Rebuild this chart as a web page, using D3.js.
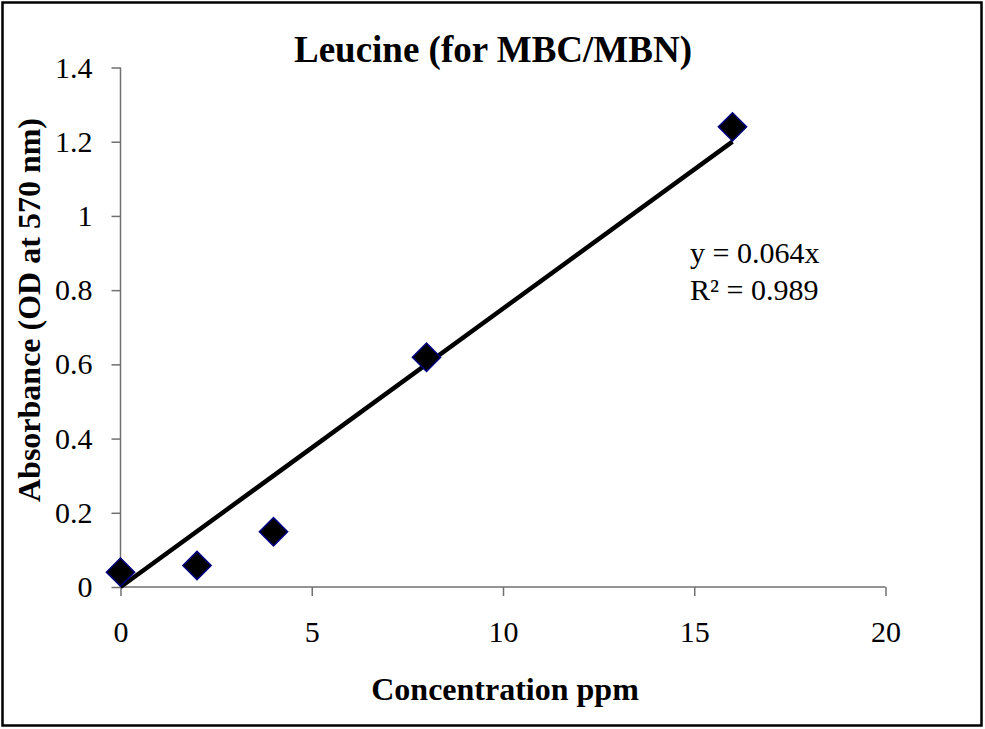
<!DOCTYPE html>
<html>
<head>
<meta charset="utf-8">
<script src="https://cdnjs.cloudflare.com/ajax/libs/d3/7.8.5/d3.min.js"></script>
<style>
  body { margin: 0; background: #fff; }
  svg text { font-family: "Liberation Serif", "Times New Roman", serif; fill: #000; }
</style>
</head>
<body>
<svg id="chart" width="985" height="729"></svg>
<script>
// data
var concentration = [0, 2, 4, 8, 16];
var absorbance = [0.040, 0.058, 0.149, 0.619, 1.240];
var xTicks = [0, 5, 10, 15, 20];
var yTicks = [0, 0.2, 0.4, 0.6, 0.8, 1, 1.2, 1.4];
var equationLines = ["y = 0.064x", "R\u00b2 = 0.989"];

var svg = d3.select("#chart");

// outer frame
svg.append("rect")
    .attr("x", 2.5).attr("y", 2.5)
    .attr("width", 979).attr("height", 723)
    .attr("fill", "none")
    .attr("stroke", "#000")
    .attr("stroke-width", 2.5);

var x = d3.scaleLinear().domain([0, 20]).range([120.5, 885.5]);
var y = d3.scaleLinear().domain([0, 1.4]).range([587, 67.5]);

var xAxis = svg.append("g")
    .attr("transform", "translate(0," + y(0) + ")")
    .call(d3.axisBottom(x).tickValues(xTicks).tickSize(9).tickPadding(25).tickFormat(d3.format("d")));

var yAxis = svg.append("g")
    .attr("transform", "translate(" + x(0) + ",0)")
    .call(d3.axisLeft(y).tickValues(yTicks).tickSize(9).tickPadding(19).tickFormat(function(d) { return String(+d.toFixed(1)); }));

[xAxis, yAxis].forEach(function(g) {
    g.selectAll(".domain").attr("stroke", "#707070").attr("stroke-width", 1.5);
    g.selectAll(".tick line").attr("stroke", "#707070").attr("stroke-width", 1.5);
    g.selectAll("text")
        .style("font-family", "'Liberation Serif', 'Times New Roman', serif")
        .style("font-size", "30px")
        .attr("fill", "#000");
});
xAxis.selectAll(".domain").attr("d", "M" + x(0) + ",0H" + x(20));
yAxis.selectAll(".domain").attr("d", "M0," + y(0) + "V" + y(1.4));

// linear trendline through the origin (least squares)
var sxy = d3.sum(concentration, function(c, i) { return c * absorbance[i]; });
var sxx = d3.sum(concentration, function(c) { return c * c; });
var slope = sxy / sxx;
var xMax = d3.max(concentration);

svg.append("line")
    .attr("x1", x(0)).attr("y1", y(0))
    .attr("x2", x(xMax)).attr("y2", y(slope * xMax))
    .attr("stroke", "#000")
    .attr("stroke-width", 4.5);

// diamond markers
var diamond = d3.symbol().type(d3.symbolSquare).size(400);
svg.selectAll("path.pt")
    .data(concentration)
    .enter()
    .append("path")
    .attr("class", "pt")
    .attr("d", diamond)
    .attr("transform", function(d, i) { return "translate(" + x(d) + "," + y(absorbance[i]) + ") rotate(45)"; })
    .attr("fill", "#000")
    .attr("stroke", "#000080")
    .attr("stroke-width", 1.5);

// equation label
svg.selectAll("text.eq")
    .data(equationLines)
    .enter()
    .append("text")
    .attr("class", "eq")
    .attr("x", 690)
    .attr("y", function(d, i) { return 263 + i * 37; })
    .style("font-size", "30px")
    .text(function(d) { return d; });

// titles
svg.append("text")
    .attr("x", 493).attr("y", 62)
    .attr("text-anchor", "middle")
    .style("font-size", "37px")
    .style("font-weight", "bold")
    .text("Leucine (for MBC/MBN)");

svg.append("text")
    .attr("x", 505).attr("y", 700)
    .attr("text-anchor", "middle")
    .style("font-size", "32px")
    .style("font-weight", "bold")
    .text("Concentration ppm");

svg.append("text")
    .attr("transform", "translate(40,310) rotate(-90)")
    .attr("text-anchor", "middle")
    .style("font-size", "32px")
    .style("font-weight", "bold")
    .text("Absorbance (OD at 570 nm)");
</script>
</body>
</html>
